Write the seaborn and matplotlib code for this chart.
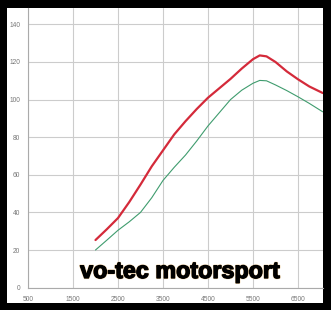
import matplotlib
matplotlib.use("Agg")
import matplotlib.pyplot as plt
import matplotlib.patheffects as pe
from matplotlib.patches import Rectangle
import numpy as np
import pandas as pd
import seaborn as sns

rpm = [2000, 2250, 2500, 2750, 3000, 3250, 3500, 3750, 4000, 4250, 4500,
       4750, 5000, 5250, 5500, 5650, 5800, 6000, 6250, 6500, 6750, 7050]
red_vals = [25.3, 31.0, 37.0, 45.5, 54.8, 64.5, 73.0, 81.5, 88.5, 95.0, 101.0,
            106.0, 111.0, 116.5, 121.5, 123.5, 123.0, 120.0, 115.0, 110.8, 107.0, 103.5]
green_vals = [20.0, 25.2, 30.5, 35.0, 40.0, 47.8, 57.0, 64.0, 70.5, 78.0, 86.0,
              93.0, 100.0, 105.0, 108.7, 110.2, 110.0, 107.8, 104.8, 101.5, 98.0, 93.5]
x_ticks = [500, 1500, 2500, 3500, 4500, 5500, 6500]
y_ticks = [0, 20, 40, 60, 80, 100, 120, 140]
title_text = "vo-tec motorsport"

df = pd.DataFrame({
    "rpm": rpm * 2,
    "value": red_vals + green_vals,
    "series": ["red"] * len(rpm) + ["green"] * len(rpm),
})

sns.set_style("white")
plt.rcParams["font.family"] = ["Liberation Sans", "DejaVu Sans"]

W, H = 331, 310
fig = plt.figure(figsize=(W / 100, H / 100), dpi=100, facecolor="black")
fig.patches.append(Rectangle((6.5 / W, (H - 303) / H), (322.7 - 6.5) / W, (303 - 7.5) / H,
                             transform=fig.transFigure, facecolor="white",
                             edgecolor="none", zorder=-5))

ax_left, ax_right, ax_top, ax_bot = 28, 322.7, 7.5, 287.6
ax = fig.add_axes([ax_left / W, (H - ax_bot) / H, (ax_right - ax_left) / W, (ax_bot - ax_top) / H])
ax.set_facecolor("white")

sns.lineplot(data=df[df.series == "green"], x="rpm", y="value", ax=ax,
             color="#3f9c6e", linewidth=0.8, legend=False)
sns.lineplot(data=df[df.series == "red"], x="rpm", y="value", ax=ax,
             color="#d42a3a", linewidth=1.6, legend=False)

ax.set_xlim(500, 500 + (ax_right - ax_left) / 45 * 1000)
ax.set_ylim(0, (ax_bot - ax_top) / 1.88)
ax.set_xticks(x_ticks)
ax.set_yticks(y_ticks)
ax.set_xticks([1000, 2000, 3000, 4000, 5000, 6000, 7000], minor=True)
ax.set_yticks([10, 30, 50, 70, 90, 110, 130], minor=True)
ax.set_xticklabels([str(v) for v in x_ticks])
ax.set_yticklabels([str(v) for v in y_ticks])
ax.set_xlabel("")
ax.set_ylabel("")
ax.grid(True, which="major", color="#cccccc", linewidth=0.8)
ax.set_axisbelow(True)
for s in ["top", "right"]:
    ax.spines[s].set_visible(False)
for s in ["left", "bottom"]:
    ax.spines[s].set_color("#aaaaaa")
    ax.spines[s].set_linewidth(0.8)
ax.tick_params(axis="both", which="major", length=2.5, width=0.6, color="#bbbbbb",
               labelsize=4.8, labelcolor="#777777")
ax.tick_params(axis="x", which="major", pad=3.6)
ax.tick_params(axis="y", which="major", pad=3.0)
ax.tick_params(axis="both", which="minor", length=1.5, width=0.6, color="#cccccc")

fig.text(180 / W, (H - 278) / H, title_text, ha="center", va="baseline",
         fontsize=16.8, fontweight="bold", color="black", zorder=10,
         path_effects=[pe.withStroke(linewidth=1.5, foreground="#e0a040", alpha=0.5),
                       pe.withStroke(linewidth=0.9, foreground="black"), pe.Normal()])

fig.savefig("out.png", dpi=100, facecolor="black")
